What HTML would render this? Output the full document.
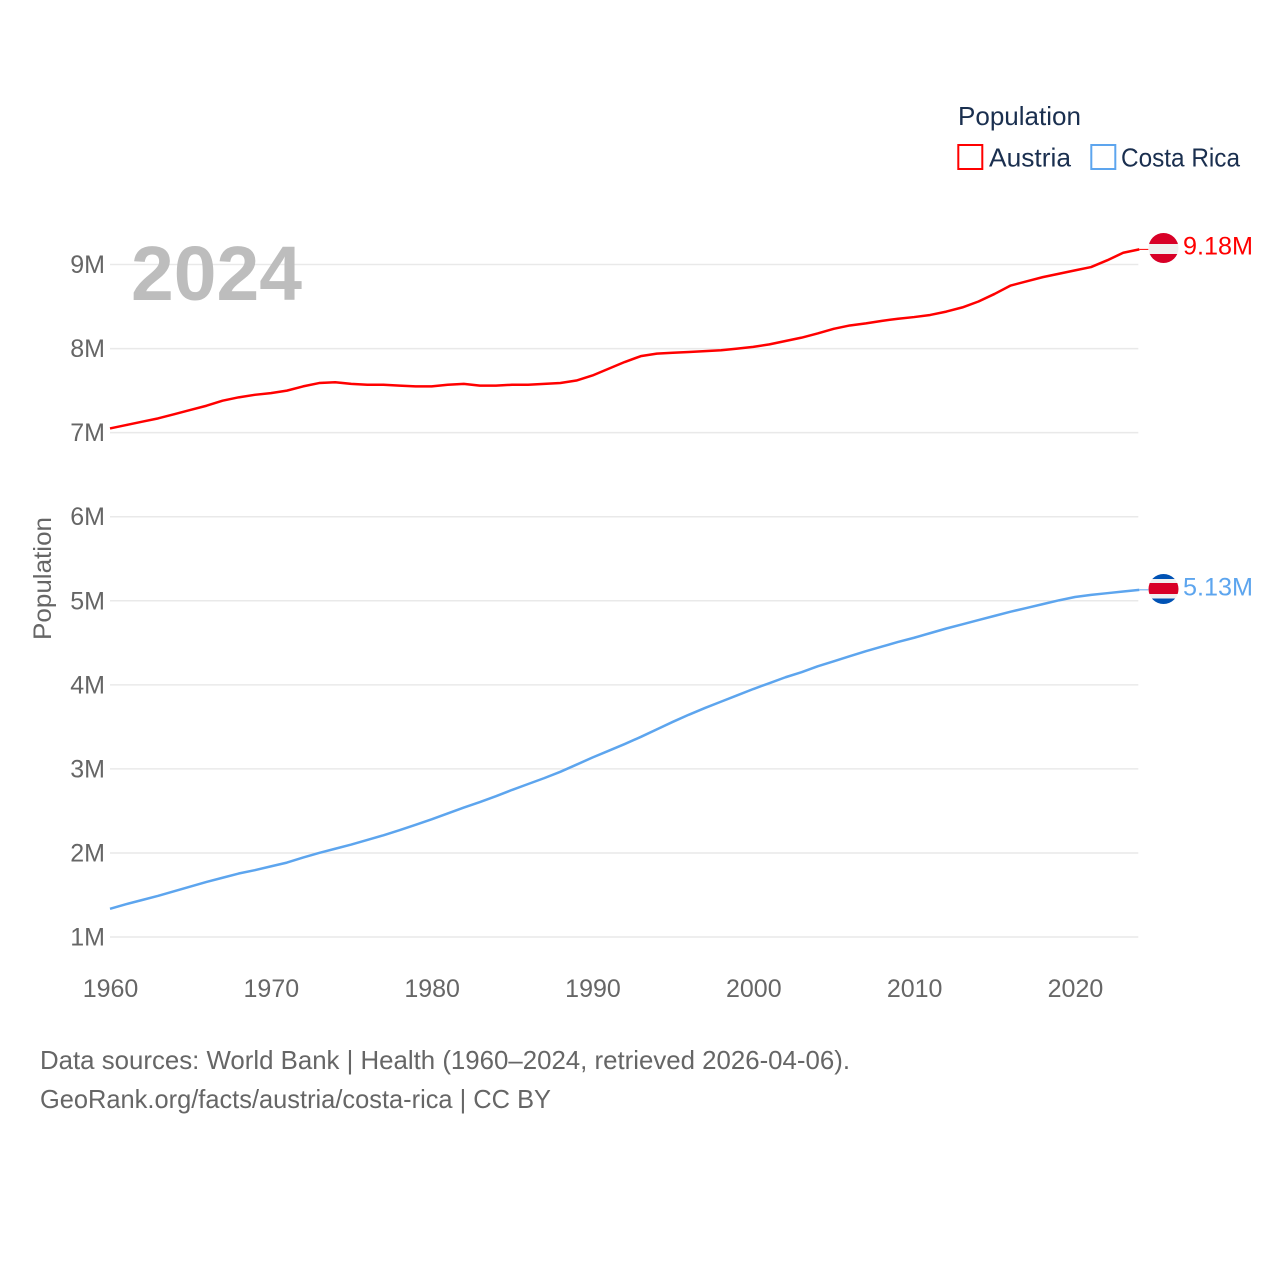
<!DOCTYPE html>
<html lang="en">
<head>
<meta charset="utf-8">
<title>Population: Austria and Costa Rica</title>
<style>
html,body{margin:0;padding:0;background:#fff;width:1280px;height:1280px;overflow:hidden}
svg{display:block}
text{font-family:"Liberation Sans",sans-serif}
</style>
</head>
<body>
<svg id="chart" width="1280" height="1280" viewBox="0 0 1280 1280" xmlns="http://www.w3.org/2000/svg">
  <defs>
    <clipPath id="austria-clip"><circle cx="1163.5" cy="248" r="15"/></clipPath>
    <clipPath id="costa-rica-clip"><circle cx="1163.5" cy="589" r="15"/></clipPath>
  </defs>
  <g id="grid"></g>
  <g id="y-ticks"></g>
  <g id="x-ticks"></g>
  <text x="131" y="300" font-size="77" font-weight="700" fill="#bdbdbd" textLength="171" lengthAdjust="spacingAndGlyphs">2024</text>
  <text transform="translate(51,578.5) rotate(-90)" text-anchor="middle" font-size="25" fill="#666" textLength="123" lengthAdjust="spacingAndGlyphs">Population</text>
  <g id="series"></g>

  <g clip-path="url(#austria-clip)">
    <rect x="1148" y="232" width="31" height="12" fill="#d80027"/>
    <rect x="1148" y="244" width="31" height="10" fill="#f0f0f0"/>
    <rect x="1148" y="254" width="31" height="10" fill="#d80027"/>
  </g>
  <g clip-path="url(#costa-rica-clip)">
    <rect x="1148" y="573" width="31" height="6" fill="#0052b4"/>
    <rect x="1148" y="579" width="31" height="4" fill="#f0f0f0"/>
    <rect x="1148" y="583" width="31" height="11" fill="#d80027"/>
    <rect x="1148" y="594" width="31" height="4.5" fill="#f0f0f0"/>
    <rect x="1148" y="598.5" width="31" height="6" fill="#0052b4"/>
  </g>
  <text x="1183" y="254.5" font-size="25" fill="#ff0000" textLength="70" lengthAdjust="spacingAndGlyphs">9.18M</text>
  <text x="1183" y="595.5" font-size="25" fill="#5da5ee" textLength="70" lengthAdjust="spacingAndGlyphs">5.13M</text>

  <g>
    <text x="958" y="125" font-size="26" fill="#1a2f4f" textLength="123" lengthAdjust="spacingAndGlyphs">Population</text>
    <rect x="958.3" y="145" width="24" height="24" fill="#fff" stroke="#ff0000" stroke-width="2"/>
    <text x="989" y="166.5" font-size="26" fill="#1a2f4f" textLength="82" lengthAdjust="spacingAndGlyphs">Austria</text>
    <rect x="1091.3" y="145" width="24" height="24" fill="#fff" stroke="#5da5ee" stroke-width="2"/>
    <text x="1121" y="166.5" font-size="26" fill="#1a2f4f" textLength="119" lengthAdjust="spacingAndGlyphs">Costa Rica</text>
  </g>

  <text x="40" y="1069" font-size="26" fill="#666" textLength="810" lengthAdjust="spacingAndGlyphs">Data sources: World Bank | Health (1960–2024, retrieved 2026-04-06).</text>
  <text x="40" y="1108" font-size="26" fill="#666" textLength="511" lengthAdjust="spacingAndGlyphs">GeoRank.org/facts/austria/costa-rica | CC BY</text>
</svg>
<script>
const startYear = 1960;
const yTickValues = [1, 2, 3, 4, 5, 6, 7, 8, 9];
const yTickLabels = ["1M", "2M", "3M", "4M", "5M", "6M", "7M", "8M", "9M"];
const xTickValues = [1960, 1970, 1980, 1990, 2000, 2010, 2020];
const xTickLabels = ["1960", "1970", "1980", "1990", "2000", "2010", "2020"];
const austriaValues = [
  7.05, 7.09, 7.13, 7.17, 7.22, 7.27, 7.32, 7.38, 7.42, 7.45,
  7.47, 7.50, 7.55, 7.59, 7.60, 7.58, 7.57, 7.57, 7.56, 7.55,
  7.55, 7.57, 7.58, 7.56, 7.56, 7.57, 7.57, 7.58, 7.59, 7.62,
  7.68, 7.76, 7.84, 7.91, 7.94, 7.95, 7.96, 7.97, 7.98, 8.00,
  8.02, 8.05, 8.09, 8.13, 8.18, 8.235, 8.275, 8.30, 8.33, 8.355,
  8.375, 8.40, 8.44, 8.49, 8.56, 8.65, 8.75, 8.80, 8.85, 8.89,
  8.93, 8.97, 9.05, 9.14, 9.18
];
const costaRicaValues = [
  1.335, 1.39, 1.44, 1.49, 1.545, 1.60, 1.655, 1.705, 1.755, 1.795,
  1.84, 1.885, 1.945, 2.00, 2.05, 2.10, 2.155, 2.21, 2.27, 2.335,
  2.40, 2.47, 2.54, 2.605, 2.675, 2.75, 2.82, 2.89, 2.965, 3.05,
  3.135, 3.215, 3.295, 3.38, 3.47, 3.56, 3.645, 3.725, 3.80, 3.875,
  3.95, 4.02, 4.09, 4.15, 4.22, 4.28, 4.34, 4.40, 4.455, 4.51,
  4.56, 4.615, 4.67, 4.72, 4.77, 4.82, 4.87, 4.915, 4.96, 5.005,
  5.045, 5.07, 5.09, 5.11, 5.13
];

const SVG_NS = "http://www.w3.org/2000/svg";
function xScale(year) { return 110 + (year - 1960) * 16.083; }
function yScale(millions) { return 937 - (millions - 1) * 84.06; }

const gridGroup = document.getElementById("grid");
const yTickGroup = document.getElementById("y-ticks");
const xTickGroup = document.getElementById("x-ticks");
const seriesGroup = document.getElementById("series");

yTickValues.forEach(function (value, i) {
  const line = document.createElementNS(SVG_NS, "line");
  
  
  line.setAttribute("x1", xScale(1960));
  line.setAttribute("x2", xScale(2024) - 1);
  line.setAttribute("y1", yScale(value));
  line.setAttribute("y2", yScale(value));
  line.setAttribute("stroke", "#e9e9e9");
  line.setAttribute("stroke-width", "1.5");
  gridGroup.appendChild(line);

  const label = document.createElementNS(SVG_NS, "text");
  
  
  label.setAttribute("x", 105);
  label.setAttribute("y", yScale(value) + 8.5);
  label.setAttribute("text-anchor", "end");
  label.setAttribute("font-size", "25");
  label.setAttribute("fill", "#666");
  label.textContent = yTickLabels[i];
  yTickGroup.appendChild(label);
});

xTickValues.forEach(function (year, i) {
  const label = document.createElementNS(SVG_NS, "text");
  
  
  label.setAttribute("x", xScale(year) + 0.5);
  label.setAttribute("y", 997);
  label.setAttribute("text-anchor", "middle");
  label.setAttribute("font-size", "25");
  label.setAttribute("fill", "#666");
  label.textContent = xTickLabels[i];
  xTickGroup.appendChild(label);
});

function linePoints(values) {
  return values.map(function (v, i) {
    return xScale(startYear + i).toFixed(2) + "," + yScale(v).toFixed(2);
  }).join(" ");
}

function addConnector(values, color) {
  const last = values[values.length - 1];
  const connector = document.createElementNS(SVG_NS, "line");
  
  
  connector.setAttribute("x1", xScale(startYear + values.length - 1));
  connector.setAttribute("x2", xScale(startYear + values.length - 1) + 9);
  connector.setAttribute("y1", yScale(last));
  connector.setAttribute("y2", yScale(last));
  connector.setAttribute("stroke", color);
  connector.setAttribute("stroke-width", "1");
  seriesGroup.appendChild(connector);
}

const austriaLine = document.createElementNS(SVG_NS, "polyline");


austriaLine.setAttribute("points", linePoints(austriaValues));
austriaLine.setAttribute("fill", "none");
austriaLine.setAttribute("stroke", "#ff0000");
austriaLine.setAttribute("stroke-width", "2.5");
austriaLine.setAttribute("stroke-linejoin", "round");
seriesGroup.appendChild(austriaLine);
addConnector(austriaValues, "#ff0000");

const costaRicaLine = document.createElementNS(SVG_NS, "polyline");


costaRicaLine.setAttribute("points", linePoints(costaRicaValues));
costaRicaLine.setAttribute("fill", "none");
costaRicaLine.setAttribute("stroke", "#5da5ee");
costaRicaLine.setAttribute("stroke-width", "2.5");
costaRicaLine.setAttribute("stroke-linejoin", "round");
seriesGroup.appendChild(costaRicaLine);
addConnector(costaRicaValues, "#5da5ee");
</script>
</body>
</html>
